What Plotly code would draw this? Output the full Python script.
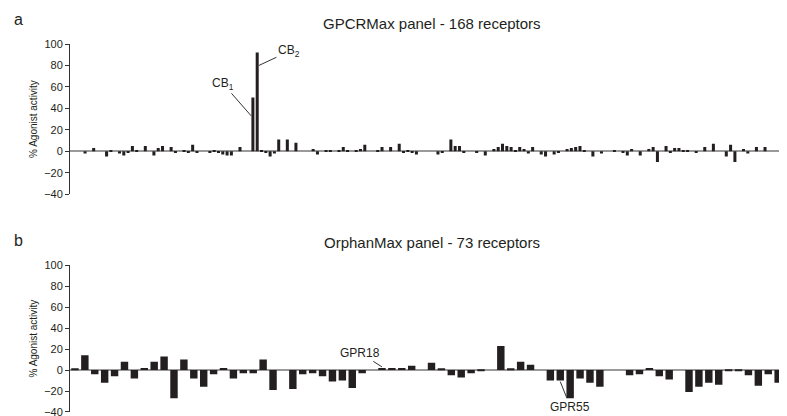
import plotly.graph_objects as go
from plotly.subplots import make_subplots

# panel a: GPCRMax, 168 receptors (% agonist activity)
gpcr_vals = [
    0, 0, 0, -2, 0, 3, 0, 0, -5, 1, 0, -2, -4, -1, 5, 1, 0, 5, 0, -4,
    3, 5, 0, 4, -1, 0, 1, -1, 6, -1, 0, 0, -1, 1, -1, -3, -4, -4, 0, 4,
    0, 0, 50, 92, 1, -1, -5, -2, 11, 0, 11, 0, 8, 0, 0, 0, 2, -3, 0, 1,
    1, 0, 1, 4, 1, 0, 1, 2, 6, 0, 0, 1, 4, 0, 4, 0, 7, -1, 1, -1,
    -3, 0, 0, 0, 0, -3, -1, 0, 11, 5, 5, -1, 0, 0, -1, 0, -4, 0, 2, 4,
    7, 5, 4, 1, 4, 2, -2, 4, 0, -3, -5, 0, -3, -1, 0, 2, 3, 4, 5, 1,
    0, -5, 0, -2, 0, 0, 1, 0, -1, -4, 2, 0, -4, 0, 2, 4, -10, 0, 5, -1,
    3, 3, 1, 1, 0, -1, 0, 4, 0, 7, 0, 0, -5, 6, -10, 0, 2, -2, 0, 4,
    0, 4, 0, 0, 0, 0, 0, 0,
]
# panel b: OrphanMax, 73 receptors
orphan_vals = [
    1, 14, -4, -12, -6, 8, -8, 2, 8, 13, -27, 10, -8, -16, -4, 2, -8, -3, -3, 10,
    -19, 0, -18, -4, -3, -6, -11, -10, -17, -3, 0, 2, 2, 2, 4, 0, 7, 1, -5, -7,
    -3, -1, 0, 23, 1, 8, 5, 0, -10, -10, -27, -8, -12, -16, 0, 0, -5, -4, 2, -6,
    -9, 0, -21, -16, -12, -14, -1, -1, -5, -15, -4, -12, -1,
]
titles = ["GPCRMax panel - 168 receptors", "OrphanMax panel - 73 receptors"]
y_ticks = [-40, -20, 0, 20, 40, 60, 80, 100]

bar_col = "#231f20"
font = "Liberation Sans, Arial, sans-serif"

fig = make_subplots(rows=2, cols=1, vertical_spacing=0.19)
for row, vals in [(1, gpcr_vals), (2, orphan_vals)]:
    xs = list(range(1, len(vals) + 1))
    fig.add_trace(go.Bar(x=xs, y=vals, marker_color=bar_col, marker_line_width=0,
                         width=0.7 if row == 1 else 0.75, showlegend=False), row=row, col=1)
    fig.update_xaxes(range=[0.5, len(vals) + 0.5], visible=False, row=row, col=1)
    fig.update_yaxes(range=[-40, 100], tickvals=y_ticks, showgrid=False,
                     zeroline=True, zerolinecolor="#9a9a9a", zerolinewidth=1.5,
                     showline=True, linecolor="#333", linewidth=1,
                     ticks="outside", ticklen=4, tickcolor="#333",
                     title=dict(text="% Agonist activity", font=dict(size=10), standoff=4),
                     row=row, col=1)

fig.update_layout(yaxis_domain=[0.592, 1.0], yaxis2_domain=[0.0, 0.399])

anns = [
    dict(x=0.5, y=1.0, xref="paper", yref="paper", text=titles[0], showarrow=False,
         yanchor="bottom", yshift=10, font=dict(size=15)),
    dict(x=0.5, y=0.399, xref="paper", yref="paper", text=titles[1], showarrow=False,
         yanchor="bottom", yshift=12, font=dict(size=15)),
    dict(x=-0.08, y=1.0, xref="paper", yref="paper", text="a", showarrow=False,
         yanchor="bottom", yshift=14, font=dict(size=16)),
    dict(x=-0.08, y=0.399, xref="paper", yref="paper", text="b", showarrow=False,
         yanchor="bottom", yshift=14, font=dict(size=16)),
    dict(x=42.6, y=33, xref="x", yref="y", text="CB<sub>1</sub>", showarrow=True,
         arrowhead=0, arrowwidth=1, arrowcolor="#333", ax=-28, ay=-32, font=dict(size=12)),
    dict(x=44.4, y=80, xref="x", yref="y", text="CB<sub>2</sub>", showarrow=True,
         arrowhead=0, arrowwidth=1, arrowcolor="#333", ax=30, ay=-14, font=dict(size=12)),
    dict(x=32, y=3, xref="x2", yref="y2", text="GPR18", showarrow=True,
         arrowhead=0, arrowwidth=1, arrowcolor="#333", ax=-22, ay=-14, font=dict(size=12)),
    dict(x=50, y=-11, xref="x2", yref="y2", text="GPR55", showarrow=True,
         arrowhead=0, arrowwidth=1, arrowcolor="#333", ax=10, ay=25, font=dict(size=12)),
]
fig.update_layout(
    width=787, height=416,
    margin=dict(l=62, r=2, t=36, b=12, autoexpand=False),
    paper_bgcolor="white", plot_bgcolor="white",
    font=dict(family=font, size=11, color="#231f20"),
    bargap=0.2,
    annotations=anns,
)
fig.write_html("out.html")
